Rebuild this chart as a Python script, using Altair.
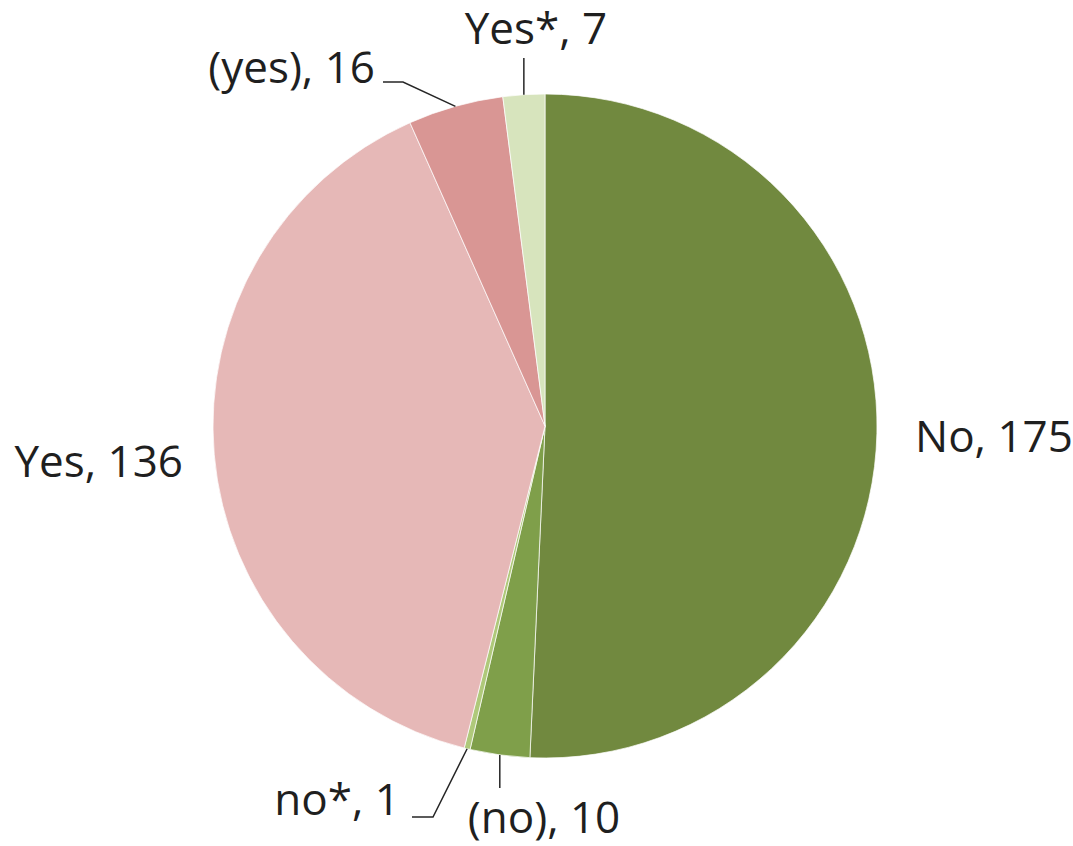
import math
import altair as alt
import pandas as pd

# Survey answers, clockwise from 12 o'clock
labels = ["No", "(no)", "no*", "Yes", "(yes)", "Yes*"]
counts = [175, 10, 1, 136, 16, 7]
colors = ["#71893F", "#7F9F4A", "#AFC97A", "#E6B8B7", "#D99694", "#D7E4BD"]

W, H = 1073, 846
CX, CY, R = 545, 426, 332
FONT = "Open Sans"
FONT_SIZE = 44

pie = pd.DataFrame({"label": labels, "count": counts, "order": range(len(labels))})
pie["text"] = [f"{l}, {c}" for l, c in zip(labels, counts)]

# mid-angle of every slice (radians, clockwise from top)
total = sum(counts)
cum = 0
mid = {}
for l, c in zip(labels, counts):
    mid[l] = 2 * math.pi * (cum + c / 2) / total
    cum += c


def edge(label):
    a = mid[label]
    return CX + R * math.sin(a), CY - R * math.cos(a)


# label placement: anchor point, alignment, and the bend of the leader line
placement = {
    "No": dict(x=915, y=452, align="left", bend=None),
    "Yes": dict(x=183, y=477, align="right", bend=None),
    "Yes*": dict(x=536, y=44, align="center", bend=[(None, 58)]),
    "(yes)": dict(x=375, y=83, align="right", bend=[(403, 82), (383, 82)]),
    "no*": dict(x=400, y=815, align="right", bend=[(433, 817), (412, 817)]),
    "(no)": dict(x=544, y=833, align="center", bend=[(None, 788)]),
}

text_rows = []
line_rows = []
for l, t in zip(labels, pie["text"]):
    p = placement[l]
    text_rows.append({"label": l, "text": t, "px": p["x"], "py": p["y"], "align": p["align"]})
    if p["bend"]:
        ex, ey = edge(l)
        line_rows.append({"label": l, "i": 0, "px": ex, "py": ey})
        for k, (bx, by) in enumerate(p["bend"], start=1):
            line_rows.append({"label": l, "i": k, "px": ex if bx is None else bx, "py": by})

texts = pd.DataFrame(text_rows)
leaders = pd.DataFrame(line_rows)

xs = alt.Scale(domain=[0, W], nice=False, zero=False)
ys = alt.Scale(domain=[H, 0], nice=False, zero=False)

arcs = alt.Chart(pie).mark_arc(
    outerRadius=R, stroke="#ffffff", strokeWidth=1, strokeOpacity=0.7
).encode(
    theta=alt.Theta("count:Q", stack=True),
    order=alt.Order("order:Q"),
    color=alt.Color("label:N", scale=alt.Scale(domain=labels, range=colors), legend=None),
    x=alt.value(CX),
    y=alt.value(CY),
)

lines = alt.Chart(leaders).mark_line(color="#262626", strokeWidth=1.5).encode(
    x=alt.X("px:Q", scale=xs, axis=None),
    y=alt.Y("py:Q", scale=ys, axis=None),
    detail="label:N",
    order="i:Q",
)

def text_layer(align):
    return alt.Chart(texts[texts["align"] == align]).mark_text(
        font=FONT, fontSize=FONT_SIZE, color="#1f1f1f", align=align, baseline="alphabetic"
    ).encode(
        x=alt.X("px:Q", scale=xs, axis=None),
        y=alt.Y("py:Q", scale=ys, axis=None),
        text="text:N",
    )

chart = alt.layer(
    arcs, lines, text_layer("left"), text_layer("right"), text_layer("center")
).properties(
    width=W, height=H, padding=0, autosize=alt.AutoSizeParams(type="none")
).configure(
    background="#ffffff",
    view=alt.ViewConfig(strokeWidth=0, stroke="transparent"),
)

chart.save("out.html", embed_options={"renderer": "svg", "actions": False})
